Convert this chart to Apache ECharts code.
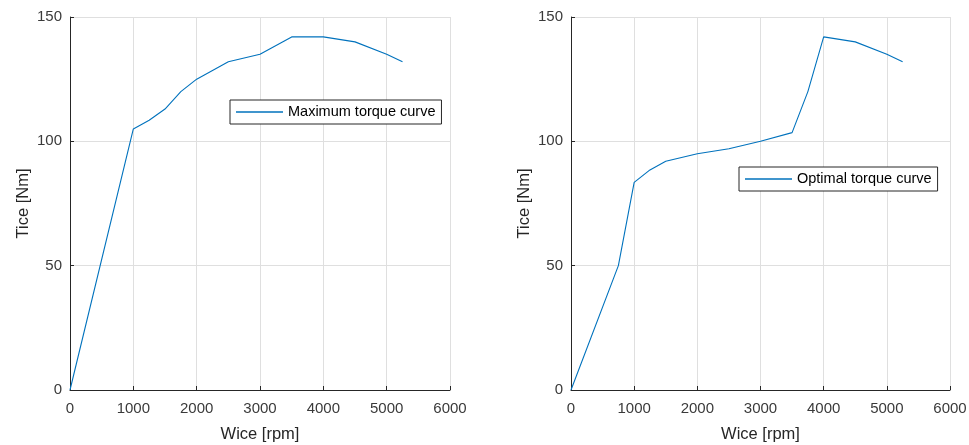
<!DOCTYPE html>
<html>
<head>
<meta charset="utf-8">
<script src="https://cdn.jsdelivr.net/npm/echarts@6/dist/echarts.min.js"></script>
<style>
  html, body { margin: 0; padding: 0; background: #fff; }
  #chart { width: 969px; height: 445px; }
</style>
</head>
<body>
<div id="chart"></div>
<script>
  // speed [rpm] and torque [Nm]
  const maxSpeed = [0, 1000, 1250, 1500, 1750, 2000, 2500, 3000, 3500, 4000, 4500, 5000, 5250];
  const maxTorque = [0, 105, 108.5, 113, 120, 125, 132, 135, 142, 142, 140, 135, 132];
  const optSpeed = [0, 750, 1000, 1250, 1500, 2000, 2500, 3000, 3500, 3750, 4000, 4500, 5000, 5250];
  const optTorque = [0, 50, 83.5, 88.5, 92, 95, 97, 100, 103.5, 120, 142, 140, 135, 132];

  const xTicks = [0, 1000, 2000, 3000, 4000, 5000, 6000];
  const yTicks = [0, 50, 100, 150];

  const axisColor = '#262626';
  const gridColor = '#dfdfdf';
  const lineColor = '#0072BD';
  const font = 'Liberation Sans, Arial, sans-serif';

  const chart = echarts.init(document.getElementById('chart'));

  function xAxis(idx) {
    return {
      gridIndex: idx,
      type: 'value',
      min: xTicks[0],
      max: xTicks[xTicks.length - 1],
      interval: xTicks[1] - xTicks[0],
      name: 'Wice [rpm]',
      nameLocation: 'middle',
      nameGap: 36,
      nameTextStyle: {color: axisColor, fontSize: 16.5, fontFamily: font},
      axisLine: {onZero: false, lineStyle: {color: axisColor, width: 1}},
      axisTick: {inside: true, length: 4, lineStyle: {color: axisColor}},
      axisLabel: {color: '#3a3a3a', fontSize: 15, fontFamily: font, margin: 11, formatter: v => String(v)},
      splitLine: {show: true, lineStyle: {color: gridColor, width: 1}}
    };
  }

  function yAxis(idx) {
    return {
      gridIndex: idx,
      type: 'value',
      min: yTicks[0],
      max: yTicks[yTicks.length - 1],
      interval: yTicks[1] - yTicks[0],
      name: 'Tice [Nm]',
      nameLocation: 'middle',
      nameGap: 38,
      nameTextStyle: {color: axisColor, fontSize: 16.5, fontFamily: font},
      axisLine: {show: true, onZero: false, lineStyle: {color: axisColor, width: 1}},
      axisTick: {show: true, inside: true, length: 4, lineStyle: {color: axisColor}},
      axisLabel: {color: '#3a3a3a', fontSize: 15, fontFamily: font, margin: 8},
      splitLine: {show: true, lineStyle: {color: gridColor, width: 1}}
    };
  }

  function legend(name, left, top) {
    return {
      data: [name],
      left: left,
      top: top,
      orient: 'horizontal',
      icon: 'rect',
      backgroundColor: '#fff',
      borderColor: axisColor,
      borderWidth: 1,
      borderRadius: 0,
      padding: [4, 6, 4, 6],
      itemWidth: 47,
      itemHeight: 1.3,
      textStyle: {color: '#000', fontSize: 14.5, fontFamily: font, lineHeight: 16}
    };
  }

  chart.setOption({
    animation: false,
    backgroundColor: '#fff',
    grid: [
      {left: 70, right: 519, top: 17, bottom: 55, outerBoundsMode: 'none'},
      {left: 571, right: 19, top: 17, bottom: 55, outerBoundsMode: 'none'}
    ],
    xAxis: [xAxis(0), xAxis(1)],
    yAxis: [yAxis(0), yAxis(1)],
    legend: [
      legend('Maximum torque curve', 230, 100),
      legend('Optimal torque curve', 739, 167)
    ],
    series: [
      {
        name: 'Maximum torque curve',
        type: 'line',
        xAxisIndex: 0,
        yAxisIndex: 0,
        symbol: 'none',
        lineStyle: {color: lineColor, width: 1.1},
        itemStyle: {color: lineColor},
        data: maxSpeed.map((s, i) => [s, maxTorque[i]])
      },
      {
        name: 'Optimal torque curve',
        type: 'line',
        xAxisIndex: 1,
        yAxisIndex: 1,
        symbol: 'none',
        lineStyle: {color: lineColor, width: 1.1},
        itemStyle: {color: lineColor},
        data: optSpeed.map((s, i) => [s, optTorque[i]])
      }
    ]
  });

  window.addEventListener('resize', () => chart.resize());
</script>
</body>
</html>
